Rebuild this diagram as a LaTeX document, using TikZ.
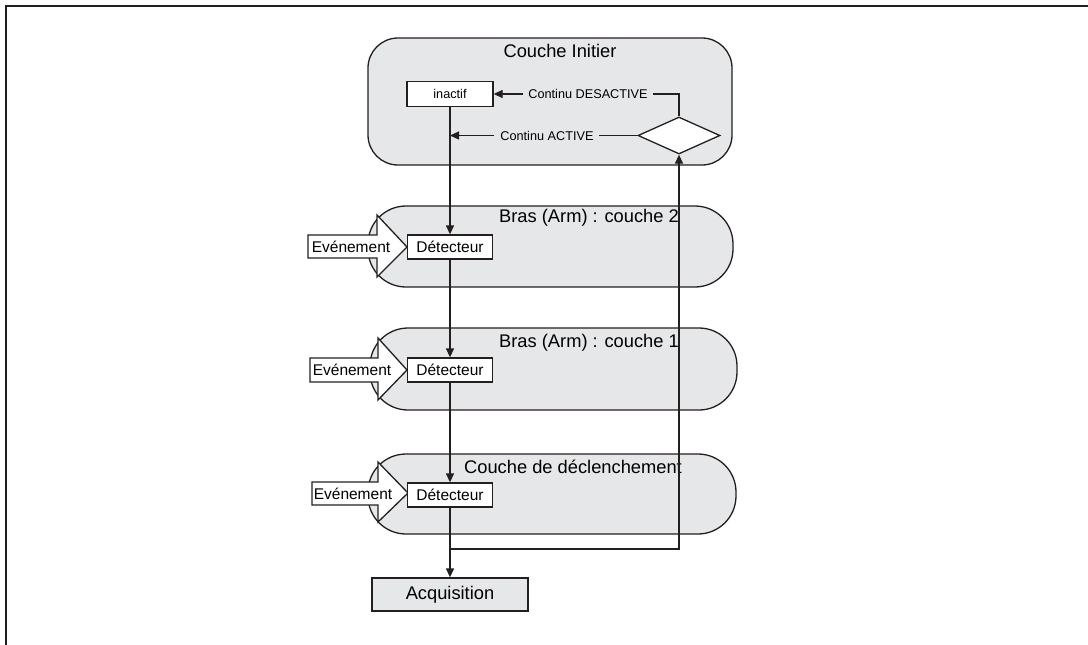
\documentclass[tikz,border=0pt]{standalone}
\usepackage{fontspec}
\setmainfont{Liberation Sans}
\usetikzlibrary{shapes.geometric,arrows.meta}
\definecolor{ln}{HTML}{231F20}
\definecolor{lay}{HTML}{E6E7E8}
\tikzset{
 layerbox/.style={draw=ln, line width=1.3pt, fill=lay, rounded corners=38pt, inner sep=0pt},
 detbox/.style={draw=ln, line width=1.3pt, fill=white, minimum width=85pt, minimum height=24pt, inner sep=0pt, font=\fontsize{15.5}{17}\selectfont},
 title/.style={font=\fontsize{18.3}{20}\selectfont, inner sep=0pt},
 small/.style={font=\fontsize{12.7}{14}\selectfont, inner sep=0pt},
 conn/.style={draw=ln, line width=1.3pt},
 arr/.style={conn, -{Triangle[length=9pt,width=8pt]}},
 evt/.style={draw=ln, line width=1.3pt, fill=white, line join=miter},
 evtext/.style={font=\fontsize{15.5}{17}\selectfont, inner sep=0pt},
}
\begin{document}
\begin{tikzpicture}[x=1pt,y=-1pt]
\useasboundingbox (0,0) rectangle (1088,645);
\draw[line width=2pt, ln] (6,645) -- (6,6) -- (1088,6);

% layers
\node[layerbox, rounded corners=30pt, minimum width=364pt, minimum height=127pt] (init) at (550,101.5) {};
\node[layerbox, minimum width=365pt, minimum height=81pt] (arm2) at (550.5,246.5) {};
\node[layerbox, minimum width=367pt, minimum height=82pt] (arm1) at (553.5,369) {};
\node[layerbox, minimum width=368pt, minimum height=80pt] (trig) at (552,494) {};

% titles
\node[title] (tinit) at (560,51) {Couche Initier};
\node[title] (tarm2) at (589,218) {Bras (Arm) : couche 2};
\node[title] (tarm1) at (589,343) {Bras (Arm) : couche 1};
\node[title] (ttrig) at (573,467) {Couche de déclenchement};

% event arrows
\draw[evt] (308,235) -- (377,235) -- (377,215) -- (407,247) -- (377,277) -- (377,258) -- (308,258) -- cycle;
\node[evtext] (ev2) at (351,246.5) {Evénement};
\draw[evt] (310,358) -- (378,358) -- (378,338) -- (407,370) -- (378,400) -- (378,382) -- (310,382) -- cycle;
\node[evtext] (ev1) at (352,370) {Evénement};
\draw[evt] (312,482) -- (378,482) -- (378,462) -- (408,493) -- (378,522) -- (378,505) -- (312,505) -- cycle;
\node[evtext] (ev0) at (353,493.5) {Evénement};

% boxes
\node[detbox, small, minimum width=86pt, minimum height=25pt] (inact) at (450,94) {inactif};
\node[detbox] (det2) at (450,247) {Détecteur};
\node[detbox] (det1) at (450,370) {Détecteur};
\node[detbox] (det0) at (450,495) {Détecteur};
\node[detbox, fill=lay, minimum width=156pt, minimum height=33pt, font=\fontsize{18.3}{20}\selectfont] (acq) at (450,594.5) {Acquisition};
\node[diamond, draw=ln, line width=1.3pt, fill=white, minimum width=82pt, minimum height=37pt, inner sep=0pt] (dec) at (679,135.5) {};

% labels
\node[small] (desact) at (588,94) {Continu DESACTIVE};
\node[small] (act) at (547,135.5) {Continu ACTIVE};

% connectors
\draw[conn] (dec.north) |- ([xshift=5pt]desact.east);
\draw[arr] ([xshift=-5pt]desact.west) -- (inact.east);
\draw[conn] (dec.west) -- ([xshift=5pt]act.east);
\coordinate (actend) at (450,135.5);
\draw[arr] ([xshift=-6pt]act.west) -- (actend);
\draw[arr] (inact.south) -- (det2.north);
\draw[arr] (det2.south) -- (det1.north);
\draw[arr] (det1.south) -- (det0.north);
\draw[arr] (det0.south) -- (acq.north);
\coordinate (br) at (450,549);
\draw[arr] (br) -| (dec.south);
\end{tikzpicture}
\end{document}
